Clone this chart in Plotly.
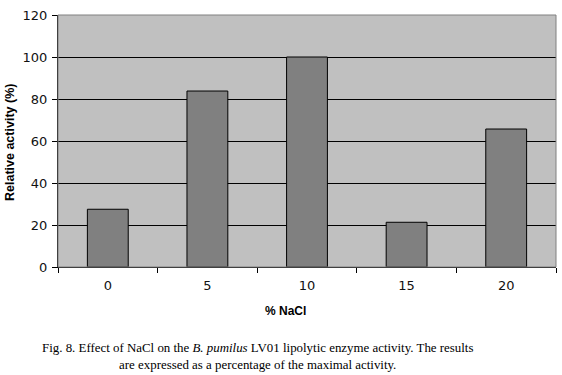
import plotly.graph_objects as go

nacl = ["0", "5", "10", "15", "20"]
activity = [27.5, 83.8, 100, 21.3, 65.7]
y_ticks = [0, 20, 40, 60, 80, 100, 120]

PW = 556 - 58   # plot width in px
PH = 267 - 15   # plot height in px

fig = go.Figure()
fig.add_trace(go.Bar(
    x=nacl, y=activity,
    marker=dict(color="#808080", line=dict(color="#000000", width=1)),
    width=0.41,
))

fig.update_layout(
    width=562, height=375,
    margin=dict(l=58, r=6, t=15, b=108, autoexpand=False),
    paper_bgcolor="white",
    plot_bgcolor="#c0c0c0",
    showlegend=False,
    font=dict(family="Arial, Liberation Sans, sans-serif", size=12, color="#000"),
)
tick_font = dict(family="DejaVu Sans, sans-serif", size=13, color="#111")
fig.update_xaxes(
    type="category", tickson="boundaries", automargin=False,
    ticks="outside", ticklen=5, tickcolor="#000",
    showline=True, linecolor="#000", linewidth=1,
    showgrid=False, mirror=False,
    tickfont=tick_font, ticklabelstandoff=6,
)
fig.update_yaxes(
    range=[0, 120], tickvals=y_ticks, automargin=False,
    ticks="outside", ticklen=5, tickcolor="#000",
    showline=True, linecolor="#000", linewidth=1,
    showgrid=True, gridcolor="#000", gridwidth=1,
    zeroline=False,
    tickfont=tick_font, ticklabelstandoff=2,
)
# plot border (top and right)
fig.add_shape(type="rect", xref="paper", yref="paper", x0=0, y0=0, x1=1, y1=1,
              line=dict(color="#808080", width=1), layer="above")

fig.add_annotation(text="<b>Relative activity (%)</b>", xref="paper", yref="paper",
                   x=(10 - 58) / PW, y=(267 - 143) / PH, textangle=-90,
                   showarrow=False, font=dict(size=12.5), xanchor="center", yanchor="middle")
fig.add_annotation(text="<b>% NaCl</b>", xref="paper", yref="paper",
                   x=(285 - 58) / PW, y=-(311 - 267) / PH,
                   showarrow=False, font=dict(size=12), xanchor="center", yanchor="middle")
fig.add_annotation(
    text="Fig. 8. Effect of NaCl on the <i>B. pumilus</i> LV01 lipolytic enzyme activity. The results<br>are expressed as a percentage of the maximal activity.",
    xref="paper", yref="paper",
    x=(257 - 58) / PW, y=-(356 - 267) / PH,
    showarrow=False, align="center", xanchor="center", yanchor="middle",
    font=dict(family="Liberation Serif, Times New Roman, serif", size=12.9, color="#000"),
)

fig.write_html("out.html", config={"displayModeBar": False},
               post_script="document.body.style.margin='0';document.body.style.overflow='hidden';")
